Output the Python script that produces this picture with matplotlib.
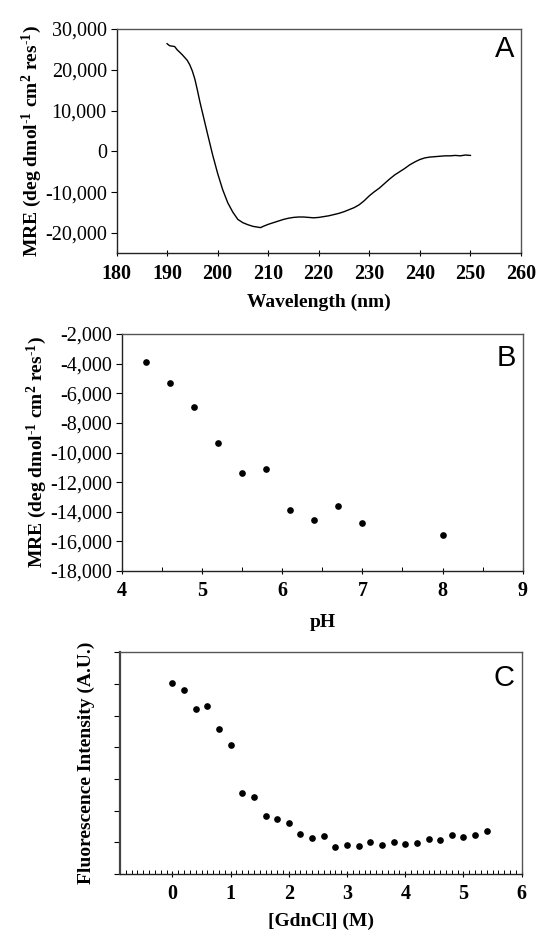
import matplotlib
matplotlib.use('Agg')
import matplotlib.pyplot as plt
from matplotlib.ticker import FuncFormatter, MultipleLocator

# panel A: CD spectrum
wavelength = [190.0, 190.5, 191.0, 191.5, 192.0, 193.0, 194.0, 194.5, 195.0, 195.5,
              196.0, 196.5, 197.0, 198.0, 199.0, 200.0, 201.0, 202.0, 203.0, 204.0,
              205.0, 206.0, 207.0, 208.0, 208.5, 209.0, 210.0, 211.0, 212.0, 213.0,
              214.0, 215.0, 216.0, 217.0, 218.0, 219.0, 220.0, 221.0, 222.0, 223.0,
              224.0, 225.0, 226.0, 227.0, 228.0, 229.0, 230.0, 231.0, 232.0, 233.0,
              234.0, 235.0, 236.0, 237.0, 238.0, 239.0, 240.0, 241.0, 242.0, 243.0,
              244.0, 245.0, 246.0, 247.0, 248.0, 249.0, 250.0]
mre_spec = [26400, 25900, 25800, 25700, 24900, 23700, 22300, 21200, 19700, 17700,
            15000, 12100, 9500, 4300, -800, -5400, -9400, -12600, -14900, -16700,
            -17500, -18000, -18400, -18600, -18700, -18400, -17900, -17500, -17100, -16700,
            -16400, -16200, -16100, -16100, -16200, -16300, -16200, -16000, -15800, -15500,
            -15200, -14800, -14300, -13800, -13100, -12100, -10900, -9900, -9000, -7900,
            -6800, -5800, -5000, -4200, -3300, -2600, -2000, -1600, -1400, -1300,
            -1200, -1100, -1100, -1000, -1100, -900, -1000]

# panel B: MRE vs pH
ph = [4.3, 4.6, 4.9, 5.2, 5.5, 5.8, 6.1, 6.4, 6.7, 7.0, 8.0]
mre_ph = [-3900, -5300, -6950, -9370, -11400, -11100, -13850, -14550, -13600, -14770, -15580]

# panel C: fluorescence vs GdnCl
gdn = [0.0, 0.2, 0.4, 0.6, 0.8, 1.0, 1.2, 1.4, 1.6, 1.8, 2.0, 2.2, 2.4, 2.6,
       2.8, 3.0, 3.2, 3.4, 3.6, 3.8, 4.0, 4.2, 4.4, 4.6, 4.8, 5.0, 5.2, 5.4]
fluor = [6.03, 5.81, 5.21, 5.32, 4.57, 4.06, 2.55, 2.43, 1.82, 1.75, 1.61, 1.26, 1.13, 1.19,
         0.86, 0.92, 0.89, 1.02, 0.92, 1.02, 0.94, 0.97, 1.11, 1.08, 1.23, 1.16, 1.23, 1.36]

plt.rcParams['font.family'] = 'Liberation Serif'
plt.rcParams['mathtext.fontset'] = 'custom'
plt.rcParams['mathtext.rm'] = 'Liberation Serif:bold'
plt.rcParams['mathtext.default'] = 'rm'

W, H = 536, 930
fig = plt.figure(figsize=(W / 100, H / 100), dpi=100)


def px_axes(x0, y0, x1, y1):
    return fig.add_axes([x0 / W, 1 - y1 / H, (x1 - x0) / W, (y1 - y0) / H])


comma = FuncFormatter(lambda v, p: f"{int(round(v)):,}")
mre_label = r'MRE (deg dmol$^{\text{-}1}$ cm$^{2}$ res$^{\text{-}1}$)'
tick_fs = 14.5
lab_fs = 14


def style(ax, xticks):
    for s in ['left', 'bottom']:
        ax.spines[s].set_color('#222222')
    for s in ['top', 'right']:
        ax.spines[s].set_color('#555555')
    for s in ax.spines.values():
        s.set_linewidth(1.0)
    ax.set_xticks(xticks)
    ax.tick_params(axis='y', direction='out', length=4, width=0.8, labelsize=tick_fs, pad=3)
    ax.tick_params(axis='x', which='major', direction='inout', length=5, width=0.8,
                   labelsize=tick_fs, pad=5)
    ax.tick_params(axis='x', which='minor', direction='in', length=3, width=0.7)
    ax.set_xticklabels([str(t) for t in xticks], fontweight='bold', fontsize=tick_fs)


def letter(ax, s, dy):
    ax.annotate(s, xy=(1, 1), xycoords='axes fraction', xytext=(-7, -dy),
                textcoords='offset pixels', ha='right', va='top',
                fontsize=21, family='Liberation Sans')


# A
axA = px_axes(116.5, 29, 521, 253.3)
axA.plot(wavelength, mre_spec, color='black', lw=1.0)
axA.set_xlim(180, 260)
axA.set_ylim(-25000, 30000)
axA.set_yticks(range(-20000, 30001, 10000))
axA.yaxis.set_major_formatter(comma)
style(axA, list(range(180, 261, 10)))
axA.set_xlabel('Wavelength (nm)', fontsize=lab_fs, fontweight='bold', labelpad=7)
axA.set_ylabel(mre_label, fontsize=lab_fs, fontweight='bold', labelpad=1)
letter(axA, 'A', 6)

# B
axB = px_axes(122, 334, 522.7, 571)
axB.plot(ph, mre_ph, 'o', color='black', ms=3.8)
axB.set_xlim(4, 9)
axB.set_ylim(-18000, -2000)
axB.xaxis.set_minor_locator(MultipleLocator(0.5))
axB.set_yticks(range(-18000, -1999, 2000))
axB.yaxis.set_major_formatter(comma)
style(axB, list(range(4, 10)))
axB.set_xlabel('pH', fontsize=lab_fs, fontweight='bold', labelpad=9)
axB.set_ylabel(mre_label, fontsize=lab_fs, fontweight='bold', labelpad=1)
letter(axB, 'B', 10)

# C
axC = px_axes(120, 652.3, 521.7, 874)
axC.plot(gdn, fluor, 'o', color='black', ms=3.8)
axC.set_xlim(-0.9, 6)
axC.set_ylim(0, 7)
axC.xaxis.set_minor_locator(MultipleLocator(0.1))
axC.set_yticks(range(0, 8))
axC.set_yticklabels([])
style(axC, list(range(0, 7)))
axC.spines['left'].set_linewidth(1.6)
axC.spines['left'].set_color('#444444')
axC.set_xlabel('[GdnCl] (M)', fontsize=lab_fs, fontweight='bold', labelpad=6)
axC.set_ylabel('Fluorescence Intensity (A.U.)', fontsize=lab_fs, fontweight='bold', labelpad=11)
letter(axC, 'C', 12)

fig.savefig('out.png', dpi=100)
